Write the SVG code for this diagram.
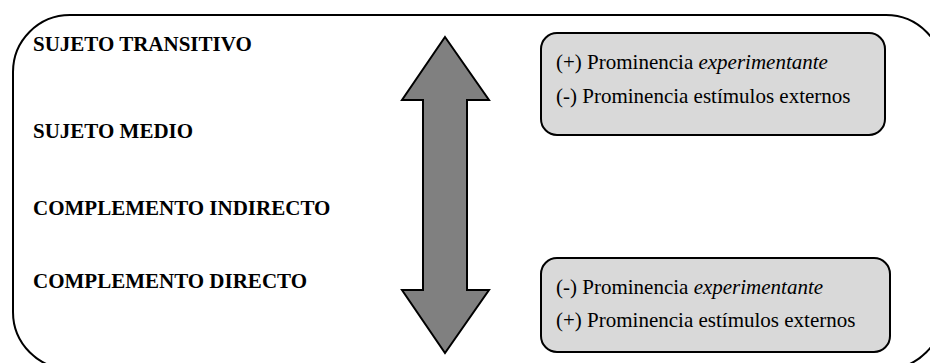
<svg xmlns="http://www.w3.org/2000/svg" width="930" height="363" viewBox="0 0 930 363">
<style>
.lbl{font-family:"Liberation Serif","Times New Roman",serif;font-size:21px;font-weight:bold;fill:#000}
.txt{font-family:"Liberation Serif","Times New Roman",serif;font-size:21px;fill:#000}
.box{fill:#d9d9d9;stroke:#000;stroke-width:2}
</style>
<rect id="frame" x="13" y="15" width="930" height="354" rx="57" ry="57" fill="#fff" stroke="#000" stroke-width="2"/>
<g id="labels">
<text class="lbl" x="33" y="51">SUJETO TRANSITIVO</text>
<text class="lbl" x="33" y="138">SUJETO MEDIO</text>
<text class="lbl" x="33" y="215">COMPLEMENTO INDIRECTO</text>
<text class="lbl" x="33" y="288">COMPLEMENTO DIRECTO</text>
</g>
<g id="connectors">
<polygon points="445,37 489,100 467,100 467,290 489,290 445,353 402,290 423,290 423,100 402,100" fill="#808080" stroke="#000" stroke-width="2" stroke-linejoin="miter"/>
</g>
<g id="box-top">
<rect class="box" x="541" y="33" width="344" height="102" rx="16" ry="16"/>
<text class="txt" x="556" y="69">(+) Prominencia <tspan font-style="italic">experimentante</tspan></text>
<text class="txt" x="556" y="103">(-) Prominencia estímulos externos</text>
</g>
<g id="box-bottom">
<rect class="box" x="541" y="258" width="349" height="94" rx="16" ry="16"/>
<text class="txt" x="556" y="294">(-) Prominencia <tspan font-style="italic">experimentante</tspan></text>
<text class="txt" x="556" y="327">(+) Prominencia estímulos externos</text>
</g>
</svg>
